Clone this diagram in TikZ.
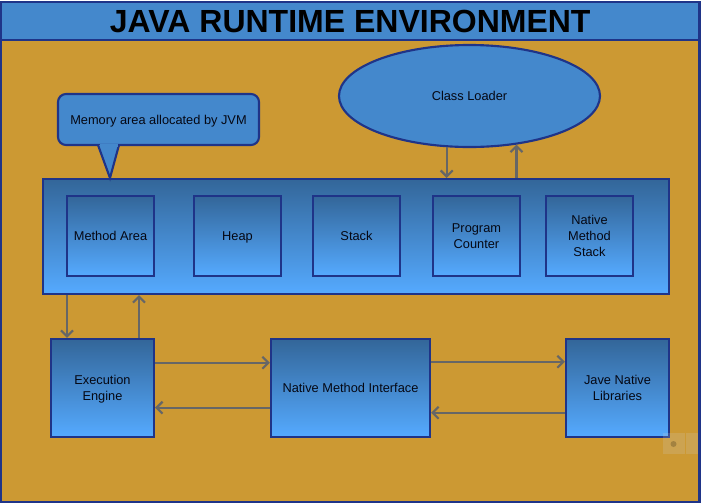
\documentclass[tikz,border=0pt]{standalone}
\usepackage{fontspec}
\setmainfont{Liberation Sans}
\usetikzlibrary{arrows.meta}
\usetikzlibrary{shapes.geometric}
\definecolor{edge}{HTML}{1F3488}
\definecolor{ground}{HTML}{CC9933}
\definecolor{plain}{HTML}{4488CC}
\definecolor{shadetop}{HTML}{336699}
\definecolor{shadebot}{HTML}{55AAFF}
\definecolor{link}{HTML}{666666}
\tikzstyle{frame} = [draw=edge, line width=1.6pt]
\tikzstyle{flat} = [frame, fill=plain, text=black!85!edge, font=\fontsize{9.6}{12}\selectfont, text centered, align=center, inner sep=0pt, text depth=-1.5pt]
\tikzstyle{box} = [frame, top color=shadetop, bottom color=shadebot, text=black!85!edge, font=\fontsize{9.6}{12}\selectfont, text centered, align=center, inner sep=0pt, text depth=-1.5pt]
\tikzstyle{small} = [box, minimum width=65.25pt, minimum height=60pt]
\tikzstyle{link} = [draw=link, line width=1.6pt, -{Straight Barb[length=4.5pt,width=9pt]}]
\tikzstyle{stamp} = [fill=white!60!gray, opacity=0.2]

\begin{document}
\begin{tikzpicture}[x=0.75pt, y=-0.75pt]
        \useasboundingbox (0,0) rectangle (701,504);
        \node[frame, fill=ground, minimum width=523.9pt, minimum height=375pt] (back) at (350.25,252) {};
        \node[flat, minimum width=523.9pt, minimum height=28.5pt, font=\bfseries\fontsize{24}{28}\selectfont, text=black, text depth=0pt] (title) at (350.25,21) {JAVA RUNTIME ENVIRONMENT};

        \node[flat, ellipse, minimum width=195.75pt, minimum height=76.5pt] (loader) at (469.5,96) {Class Loader};
        \node[flat, rounded corners=6pt, minimum width=150.75pt, minimum height=38.25pt] (memory) at (158.5,119.5) {Memory area allocated by JVM};

        \node[box, minimum width=469.5pt, minimum height=86.25pt] (area) at (356,236.5) {};
        \draw[frame, fill=plain] (98,145) -- (110,178) -- (119,145);
        \fill[plain] (99.5,144) rectangle (117.5,146.5);

        \node[small] (method) at (110.5,236) {Method Area};
        \node[small] (heap) at (237.5,236) {Heap};
        \node[small] (stack) at (356.5,236) {Stack};
        \node[small] (counter) at (476.5,236) {Program\\Counter};
        \node[small] (stackn) at (589.5,236) {Native\\Method\\Stack};

        \node[box, minimum width=77.25pt, minimum height=73.5pt] (engine) at (102.5,388) {Execution\\Engine};
        \node[box, minimum width=119.25pt, minimum height=73.5pt] (interface) at (350.5,388) {Native Method Interface};
        \node[box, minimum width=77.25pt, minimum height=73.5pt] (libs) at (617.5,388) {Jave Native\\Libraries};

        \draw[link] (loader.-114) -- (loader.-114 |- area.north);
        \draw[link] (loader.-46 |- area.north) -- (loader.-46);
        \draw[link] ([xshift=18.8pt]area.south west) -- ([xshift=18.8pt]area.south west |- engine.north);
        \draw[link] ([xshift=66.75pt]engine.north west) -- ([xshift=66.75pt]engine.north west |- area.south);
        \draw[link] ([yshift=-18.6pt]engine.north east) -- ([yshift=-18.6pt]engine.north east -| interface.west);
        \draw[link] ([yshift=22.8pt]interface.south west) -- ([yshift=22.8pt]interface.south west -| engine.east);
        \draw[link] ([yshift=-17.85pt]interface.north east) -- ([yshift=-17.85pt]interface.north east -| libs.west);
        \draw[link] ([yshift=19pt]libs.south west) -- ([yshift=19pt]libs.south west -| interface.east);

        \fill[stamp] (663,433) rectangle (685,454);
        \fill[stamp] (686,433) rectangle (698,454);
        \fill[stamp, fill=black] (673.5,444) circle (3);
    \end{tikzpicture}
\end{document}
